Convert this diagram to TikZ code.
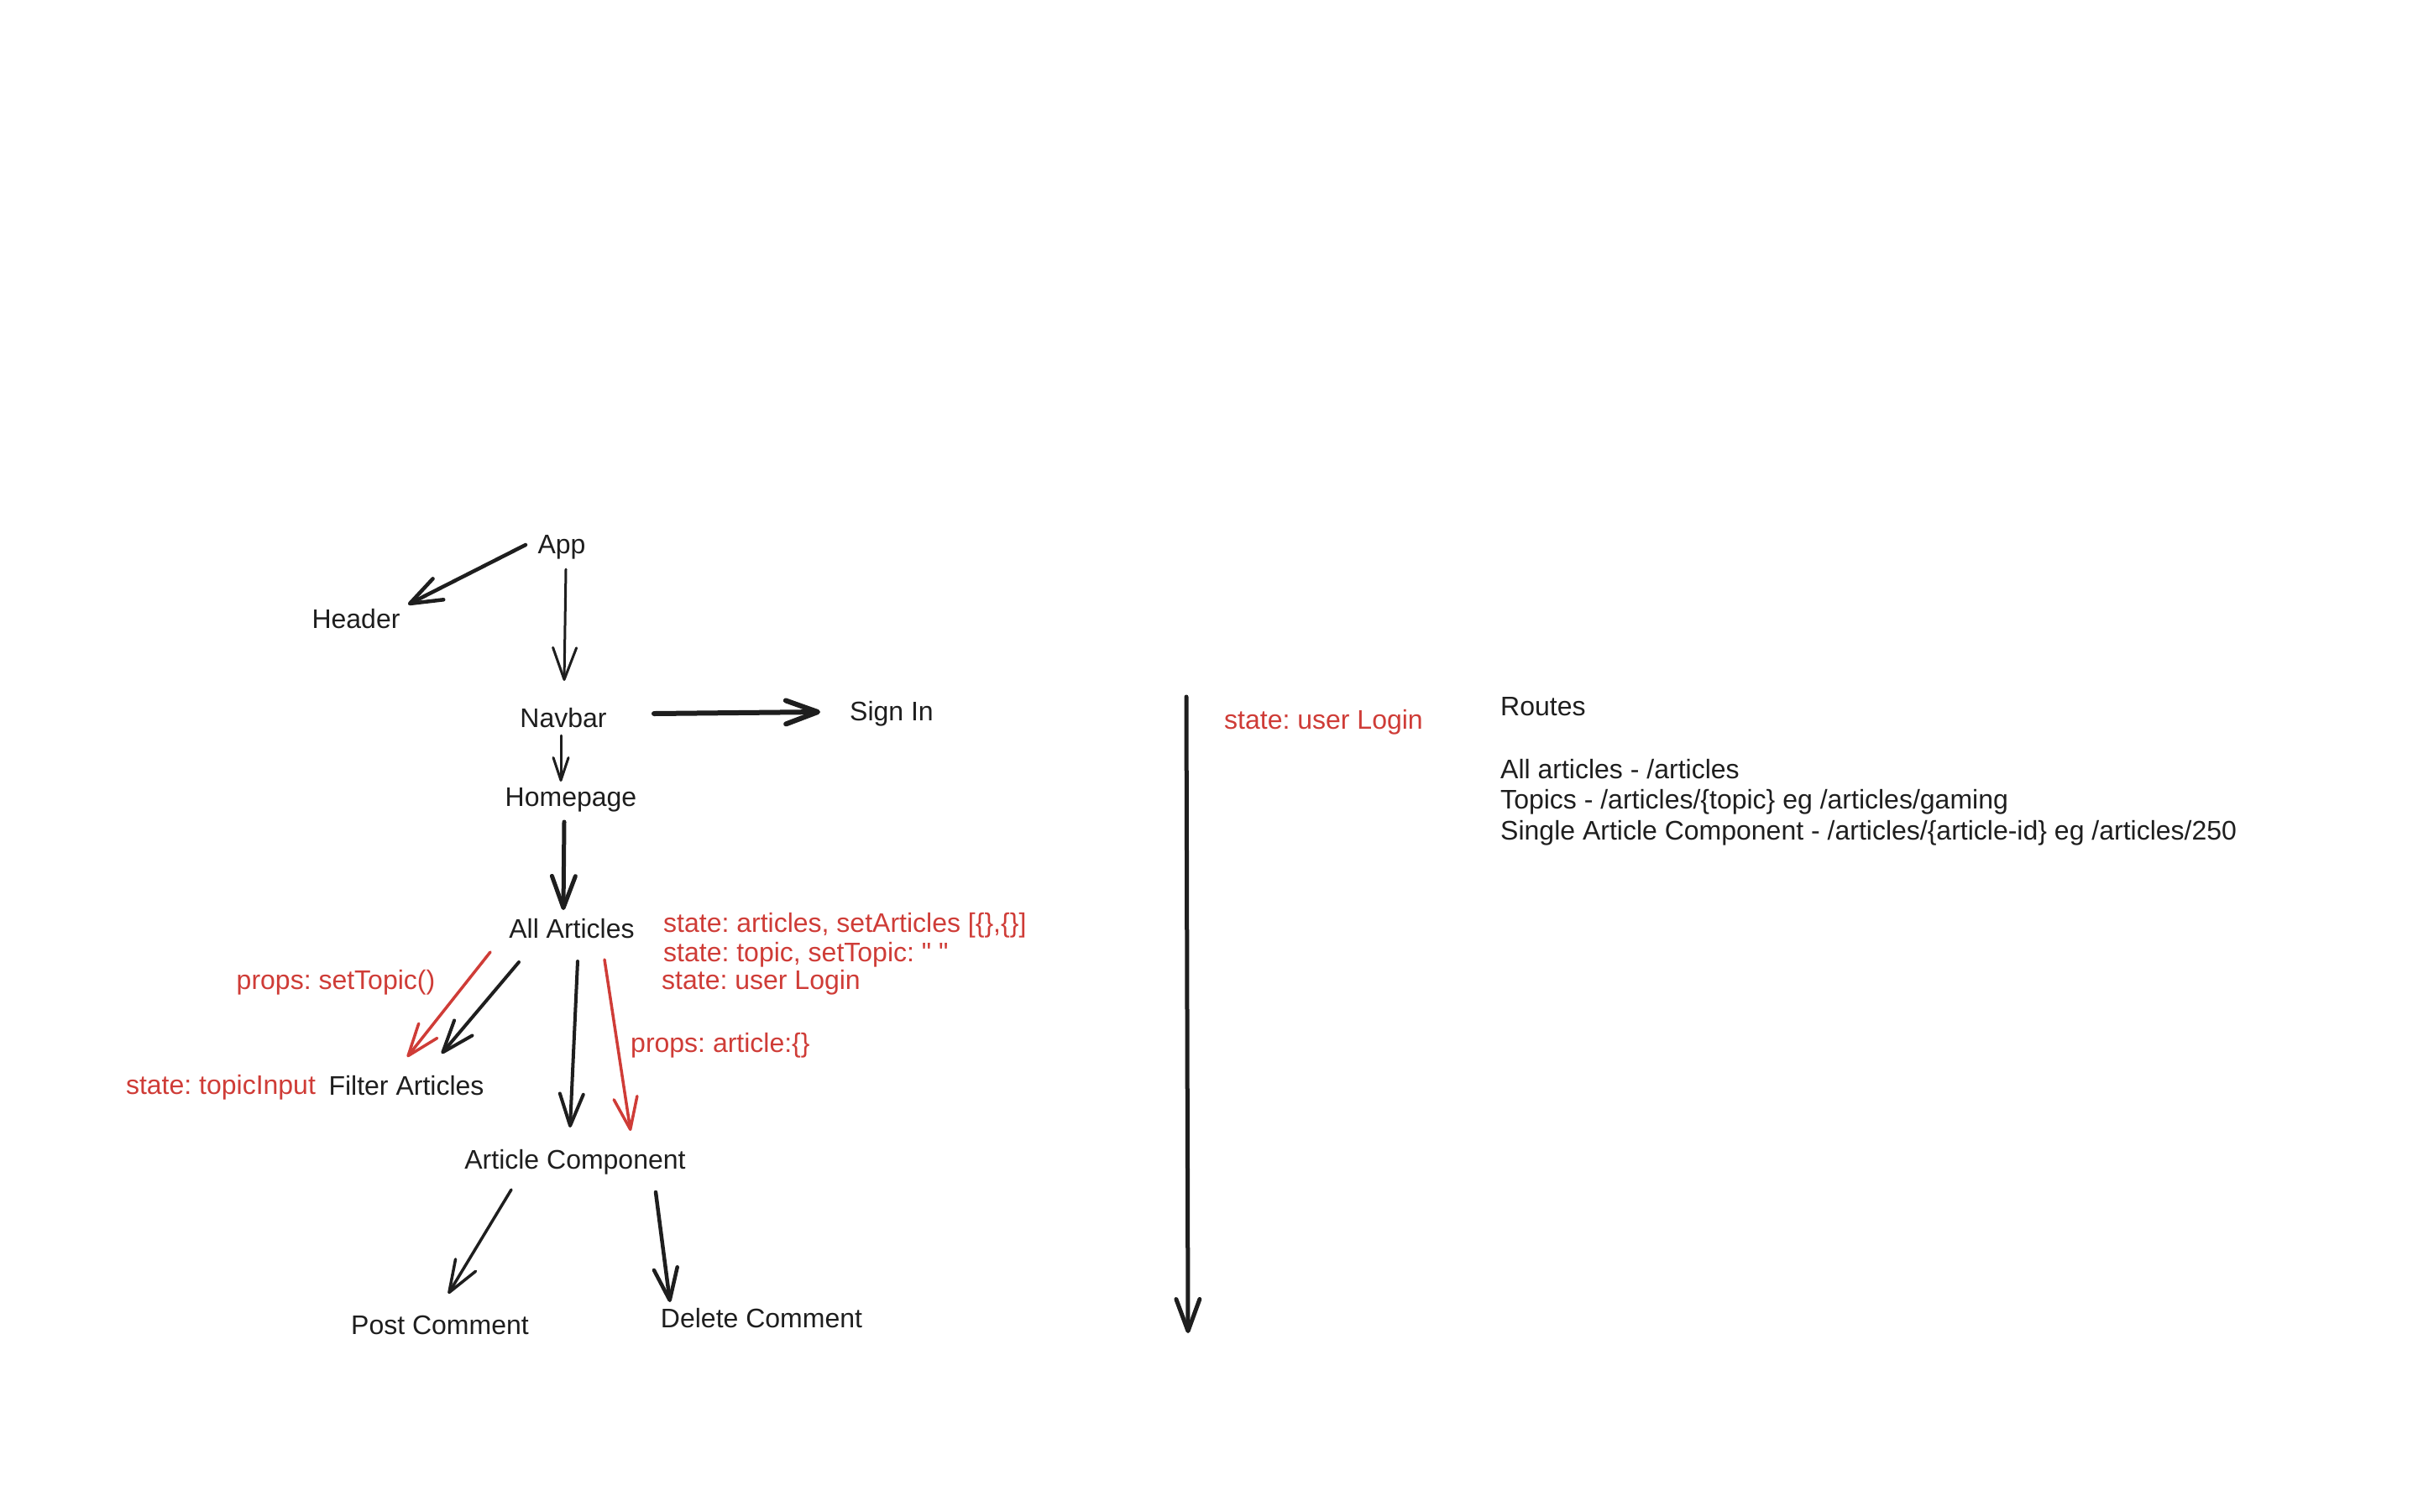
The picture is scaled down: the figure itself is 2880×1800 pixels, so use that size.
\documentclass[tikz,border=0pt]{standalone}
\usepackage{fontspec}
\setmainfont[Ligatures=TeXOff]{Liberation Sans}
\usetikzlibrary{arrows.meta}
\definecolor{ink}{RGB}{30,30,30}
\definecolor{redink}{RGB}{207,60,55}
\frenchspacing
\begin{document}
\begin{tikzpicture}[x=1pt,y=-1pt,
  lbl/.style={inner sep=0pt, text height=25pt, text depth=5pt, font=\fontsize{32}{38}\selectfont, text=ink},
  rlbl/.style={lbl, text=redink},
  arr/.style={draw=ink, line width=4pt, line cap=round, line join=round, -{Straight Barb[length=38pt,width=28pt,round]}},
  rarr/.style={arr, draw=redink, line width=3.5pt},
  smallhead/.style={-{Straight Barb[length=27pt,width=18pt,round]}}
]
\useasboundingbox[fill=white] (0,0) rectangle (2880,1800);

% main nodes
\node[lbl] (app) at (669,649) {App};
\node[lbl] (header) at (424,738) {Header};
\node[lbl] (navbar) at (671,856) {Navbar};
\node[lbl] (signin) at (1062,848) {Sign In};
\node[lbl] (homepage) at (680,950) {Homepage};
\node[lbl] (allart) at (681,1107) {All Articles};
\node[lbl] (filter) at (484,1294) {Filter Articles};
\node[lbl] (artcomp) at (685,1382) {Article Component};
\node[lbl] (post) at (524,1579) {Post Comment};
\node[lbl] (delete) at (907,1571) {Delete Comment};

% red annotations
\node[rlbl] (topicinput) at (263,1293) {state: topicInput};
\node[rlbl] (settopic) at (400,1168) {props: setTopic()};
\node[rlbl, anchor=west] (st1) at (790,1100) {state: articles, setArticles [\{\},\{\}]};
\node[rlbl, anchor=west] (st2) at (790,1135) {state: topic, setTopic: " "};
\node[rlbl, anchor=west] (st3) at (788,1168) {state: user Login};
\node[rlbl, anchor=west] (propart) at (751,1243) {props: article:\{\}};
\node[rlbl, anchor=west] (userlogin) at (1458,858) {state: user Login};

% routes
\node[lbl, anchor=west] (routes) at (1787,842) {Routes};
\node[lbl, anchor=west] (r1) at (1787,917) {All articles - /articles};
\node[lbl, anchor=west] (r2) at (1787,953) {Topics - /articles/\{topic\} eg /articles/gaming};
\node[lbl, anchor=west] (r3) at (1787,990) {Single Article Component - /articles/\{article-id\} eg /articles/250};

% connectors
\draw[arr, line width=4.5pt] ([shift={(-43,0)}]app.center) -- ([shift={(62,-18)}]header.center);
\draw[arr, line width=3pt] ([shift={(5,29)}]app.center) -- ([shift={(1,-45)}]navbar.center);
\draw[arr, line width=6pt] ([shift={(108,-6)}]navbar.center) -- ([shift={(-85,0)}]signin.center);
\draw[arr, smallhead, line width=3pt] ([shift={(-3,20)}]navbar.center) -- ([shift={(-12,-19)}]homepage.center);
\draw[arr, line width=5pt] ([shift={(-8,29)}]homepage.center) -- ([shift={(-10,-23)}]allart.center);
\draw[rarr] ([shift={(-97,27)}]allart.center) -- ([shift={(1,-35)}]filter.center);
\draw[arr] ([shift={(-63,39)}]allart.center) -- ([shift={(42,-39)}]filter.center);
\draw[arr] ([shift={(7,38)}]allart.center) -- ([shift={(-6,-39)}]artcomp.center);
\draw[rarr] ([shift={(39,36)}]allart.center) -- ([shift={(66,-35)}]artcomp.center);
\draw[arr, line width=3.5pt] ([shift={(-76,35)}]artcomp.center) -- ([shift={(10,-38)}]post.center);
\draw[arr, line width=4.5pt] ([shift={(96,38)}]artcomp.center) -- ([shift={(-109,-20)}]delete.center);

\coordinate (vtop) at (1413,830);
\coordinate (vbot) at (1415,1588);
\draw[arr, line width=5pt] (vtop) -- (vbot);
\end{tikzpicture}
\end{document}
